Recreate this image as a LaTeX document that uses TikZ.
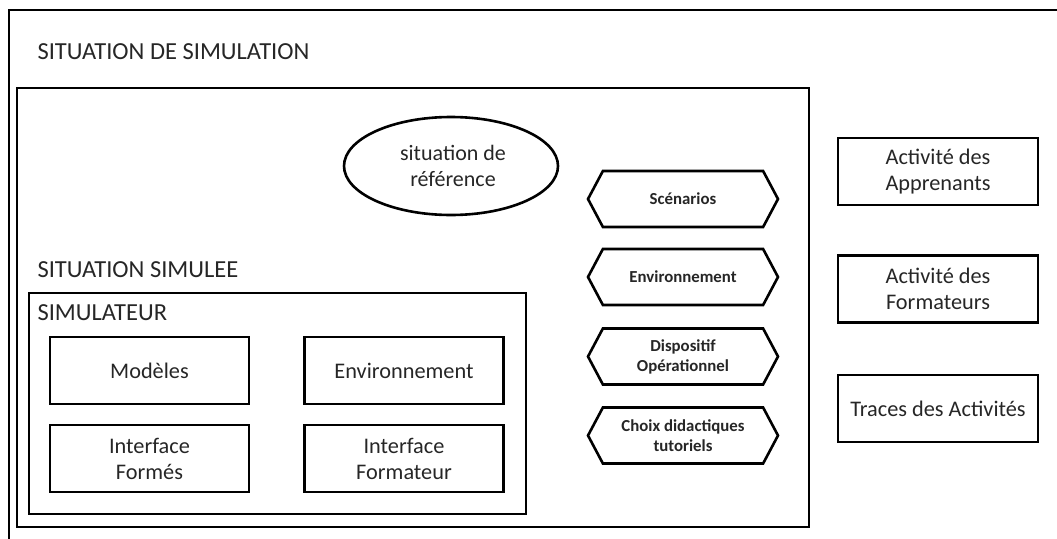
\documentclass[tikz,border=0pt]{standalone}
\usepackage{fontspec}
\setmainfont{Carlito}
\usetikzlibrary{shapes.symbols}
\definecolor{texte}{gray}{0.15}

\begin{document}
\begin{tikzpicture}[x=1pt,y=-1pt,line join=miter,
  cadre/.style={line width=2.6pt},
  boite/.style={draw,line width=2.6pt,minimum width=199pt,minimum height=67pt,align=center,text=texte,font=\fontsize{22.3}{26}\selectfont},
  hexa/.style={draw,line width=2.6pt,signal,signal to=west and east,signal pointer angle=124,minimum width=190pt,minimum height=56pt,align=center,text=texte,font=\bfseries\fontsize{16.8}{20}\selectfont},
  titre/.style={anchor=west,text=texte,font=\fontsize{24.5}{28}\selectfont}]
\useasboundingbox (0,0) rectangle (1057,538);

%cadres
\draw[cadre] (9,10) rectangle (1080,560);
\draw[cadre] (17,88) rectangle (809,527);
\draw[cadre] (29,293) rectangle (526,514);

%titres
\node [titre] (simulation) at (34,52) {SITUATION DE SIMULATION};
\node [titre] (simulee) at (34,270) {SITUATION SIMULEE};
\node [titre] (simulateur) at (34,313) {SIMULATEUR};

%situation de reference
\draw[line width=2.6pt] (451,166) ellipse [x radius=107, y radius=49];
\node [align=center,text=texte,font=\fontsize{22}{26}\selectfont] (reference) at (453,166) {situation de\\référence};

%simulateur
\node [boite] (modeles) at (149.5,370.5) {Modèles};
\node [boite] (environnement) at (404,370.5) {Environnement};
\node [boite] (formes) at (149.5,458.5) {Interface\\Formés};
\node [boite] (formateur) at (404,458.5) {Interface\\Formateur};

%hexagones
\node [hexa] (scenarios) at (683,199) {Scénarios};
\node [hexa] (env) at (683,277) {Environnement};
\node [hexa] (dispositif) at (683,356.5) {Dispositif\\Opérationnel};
\node [hexa] (choix) at (683,435.5) {Choix didactiques\\tutoriels};

%activites
\node [boite,minimum width=200pt] (apprenants) at (938,171.5) {Activité des\\Apprenants};
\node [boite,minimum width=200pt] (formateurs) at (938,289) {Activité des\\Formateurs};
\node [boite,minimum width=200pt] (traces) at (938,408.5) {Traces des Activités};
\end{tikzpicture}
\end{document}
